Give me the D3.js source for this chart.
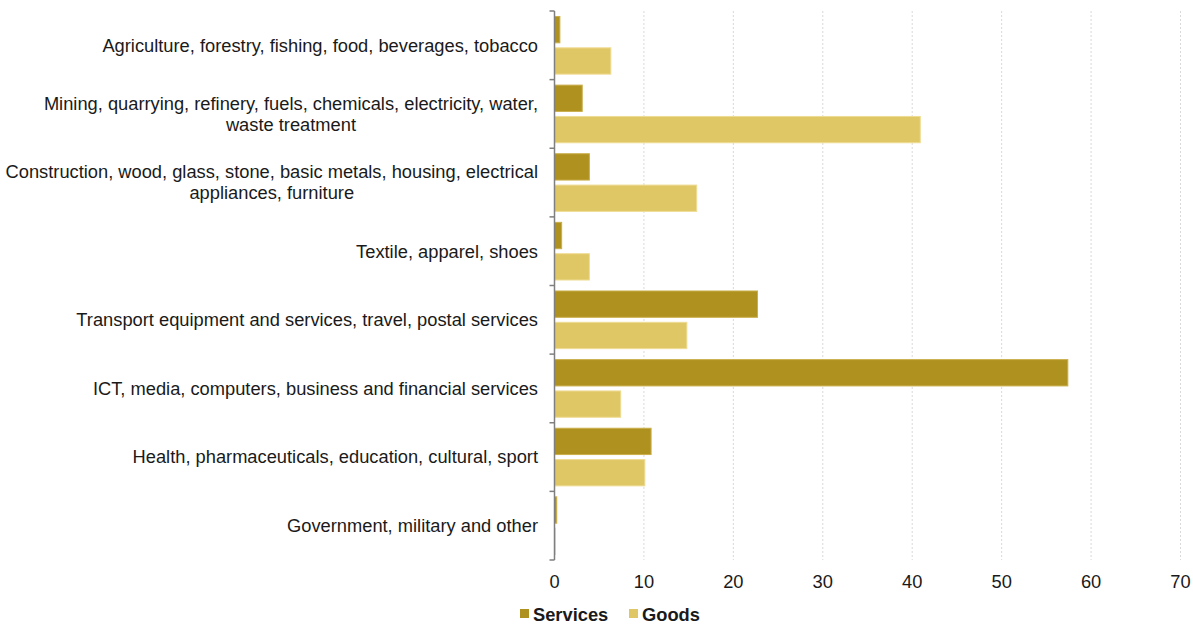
<!DOCTYPE html>
<html><head><meta charset="utf-8">
<script src="https://cdn.jsdelivr.net/npm/d3@7"></script>
<style>body{margin:0;background:#fff}svg{display:block}text{font-family:"Liberation Sans",Arial,sans-serif}</style>
</head><body><svg id="c" width="1193" height="626"></svg>
<script>
const categories = [
  ["Agriculture, forestry, fishing, food, beverages, tobacco"],
  ["Mining, quarrying, refinery, fuels, chemicals, electricity, water,", "waste treatment"],
  ["Construction, wood, glass, stone, basic metals, housing, electrical", "appliances, furniture"],
  ["Textile, apparel, shoes"],
  ["Transport equipment and services, travel, postal services"],
  ["ICT, media, computers, business and financial services"],
  ["Health, pharmaceuticals, education, cultural, sport"],
  ["Government, military and other"]
];
const seriesNames = ["Services", "Goods"];
const services = [0.6, 3.1, 3.9, 0.8, 22.7, 57.4, 10.8, 0.25];
const goods = [6.3, 40.9, 15.9, 3.9, 14.8, 7.4, 10.1, 0.08];
const xTicks = [0, 10, 20, 30, 40, 50, 60, 70];
const colors = ["#AF911F", "#E0C765"];
const strokes = ["#C9AE4A", "#EEDC94"];

(function(){
const svg = d3.select("#c");
const pLeft = 554.5, pRight = 1180.5, pTop = 11, pBottom = 560;
const fs = 18.3;
const x = d3.scaleLinear().domain([0, 70]).range([pLeft, pRight]);
const idx = d3.range(categories.length);
const y0 = d3.scaleBand().domain(idx).range([pTop, pBottom]).paddingInner(0.16).paddingOuter(0.08);
const y1 = d3.scaleBand().domain([0, 1]).range([0, y0.bandwidth()]).paddingInner(0.16);

svg.append("g").selectAll("line").data(xTicks.slice(1)).join("line")
  .attr("x1", d => x(d)).attr("x2", d => x(d)).attr("y1", pTop).attr("y2", pBottom)
  .attr("stroke", "#d9d9d9").attr("stroke-width", 1).attr("stroke-dasharray", "2,2");

const data = [services, goods];
idx.forEach(i => {
  [0, 1].forEach(s => {
    const v = data[s][i];
    svg.append("rect")
      .attr("x", x(0)).attr("y", y0(i) + y1(s))
      .attr("width", Math.max(0, x(v) - x(0))).attr("height", y1.bandwidth())
      .attr("fill", colors[s]).attr("stroke", strokes[s]).attr("stroke-width", 1);
  });
});

svg.append("line").attr("x1", pLeft).attr("x2", pLeft).attr("y1", pTop).attr("y2", pBottom)
  .attr("stroke", "#7f7f7f").attr("stroke-width", 1.5);
const bounds = d3.range(categories.length + 1).map(k => pTop + (pBottom - pTop) * k / categories.length);
svg.append("g").selectAll("line").data(bounds).join("line")
  .attr("x1", pLeft - 5).attr("x2", pLeft).attr("y1", d => d).attr("y2", d => d)
  .attr("stroke", "#7f7f7f").attr("stroke-width", 1.5);

const lab = svg.append("g").attr("font-size", fs).attr("fill", "#1a1a1a");
const labelRight = 538;
idx.forEach(i => {
  const lines = categories[i];
  const cy = y0(i) + y0.bandwidth() / 2;
  const g = lab.append("g");
  const texts = lines.map(l => g.append("text").text(l));
  const widths = texts.map(t => t.node().getComputedTextLength());
  const maxW = d3.max(widths);
  const cx = labelRight - maxW / 2;
  const lh = 21;
  texts.forEach((t, k) => {
    t.attr("x", cx).attr("text-anchor", "middle")
     .attr("y", cy + (k - (lines.length - 1) / 2) * lh).attr("dy", "0.35em");
  });
});

svg.append("g").attr("font-size", fs).attr("fill", "#1a1a1a").selectAll("text").data(xTicks).join("text")
  .attr("x", d => x(d)).attr("y", 588).attr("text-anchor", "middle").text(d => d);

const leg = svg.append("g").attr("font-size", fs).attr("font-weight", "bold").attr("fill", "#1a1a1a");
const legX = [520, 629];
seriesNames.forEach((n, s) => {
  leg.append("rect").attr("x", legX[s]).attr("y", 609).attr("width", 9).attr("height", 9).attr("fill", colors[s]);
  leg.append("text").attr("x", legX[s] + 13).attr("y", 621).text(n);
});
})();
</script></body></html>
